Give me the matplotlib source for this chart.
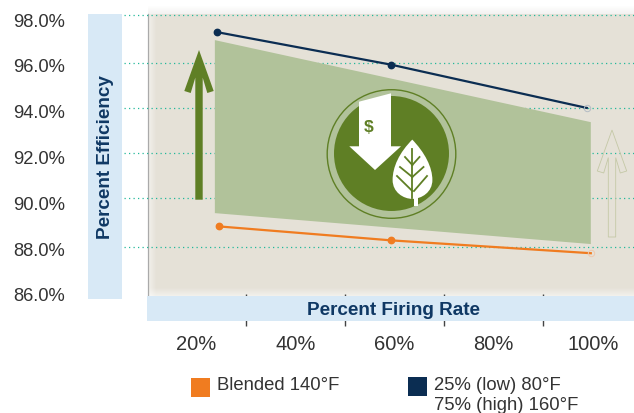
from matplotlib import pyplot as plt
from matplotlib.patches import Circle, PathPatch, Polygon, Rectangle
from matplotlib.path import Path
from matplotlib.transforms import Affine2D

plt.rcParams['font.family'] = ['Liberation Sans', 'DejaVu Sans']

W, H = 634, 414

# values
x_labels = [20, 40, 60, 80, 100]
x_marks = [30, 50, 70, 90]
y_labels = [86, 88, 90, 92, 94, 96, 98]
grid_y = [98.19, 96.06, 94.12, 92.15, 90.17, 88.07]

low_high_x = [24.2, 59.3, 98.8]
low_high_y = [97.43, 96.01, 94.12]
blended_x = [24.6, 59.4, 99.6]
blended_y = [88.95, 88.34, 87.78]

band_x = [23.8, 99.6, 99.6, 23.8]
band_y = [97.08, 93.5, 88.18, 89.53]

legend_labels = ['Blended 140°F', '25% (low) 80°F\n75% (high) 160°F']

PANEL = '#e5e1d7'
BLUE = '#d8e9f6'
NAVY = '#0b2d52'
TITLE = '#0f3864'
ORANGE = '#f07c20'
OLIVE = '#5f7f25'
SAGE = '#b1c29a'
TEAL = '#22b89a'
GHOST = '#c4c8a6'
TEXT = '#333333'


def big_arrow(cx, top, bottom):
    return [(cx, top), (cx + 14.7, top + 41), (cx + 8.3, top + 43), (cx + 3.7, top + 27.6),
            (cx + 3.7, bottom), (cx - 3.7, bottom), (cx - 3.7, top + 27.6),
            (cx - 8.3, top + 43), (cx - 14.7, top + 41)]


fig = plt.figure(figsize=(W / 100, H / 100), dpi=100)
# pixel coordinates, from the top left, for the decoration
pix = Affine2D().scale(1 / W, -1 / H).translate(0, 1) + fig.transFigure

ax = fig.add_axes([148 / W, 1 - 295 / H, (W - 148) / W, 280 / H])
ax.patch.set_visible(False)
ax.set_axisbelow(True)
for side in ax.spines:
    ax.spines[side].set_visible(False)
ax.set_xlim(10.32, 108.31)
ax.set_ylim(86, 98.22)


def deco(patch):
    patch.set_transform(pix)
    patch.set_clip_on(False)
    ax.add_patch(patch)
    return patch


# background panel with soft edges
deco(Rectangle((148, 15), W - 148, 282, fc=PANEL, ec='none', zorder=0))
for i in range(8):
    deco(Rectangle((148 + i, 15), 1, 282, fc='white', ec='none', alpha=0.5 * (1 - i / 8), zorder=0.1))
    deco(Rectangle((148, 296 - i), W - 148, 1, fc='white', ec='none', alpha=0.5 * (1 - i / 8), zorder=0.1))
    deco(Rectangle((148, 14 - i), W - 148, 1, fc='#8a8578', ec='none', alpha=0.1 * (1 - i / 8), zorder=0.1))
ax.plot([147.5, 147.5], [15, 297], color='#aaaaaa', lw=0.9, transform=pix, clip_on=False, zorder=0.2)

ax.hlines(grid_y, 5.48, 108.31, color=TEAL, lw=0.9, linestyle=(0, (1, 2.6)), clip_on=False, zorder=1)

deco(Polygon(big_arrow(612, 131, 238), closed=True, fc='none', ec=GHOST, lw=0.6, zorder=1.5))
deco(Polygon(big_arrow(199, 51, 200.7), closed=True, fc=OLIVE, ec='none', zorder=1.5))

ax.fill(band_x, band_y, color=SAGE, lw=0, zorder=2)

ax.plot(low_high_x, low_high_y, color=NAVY, lw=1.6, marker='o', ms=4.6, markevery=[0, 1], zorder=4)
ax.plot(blended_x, blended_y, color=ORANGE, lw=1.6, marker='o', ms=4.6, markevery=[0, 1], zorder=4)
ax.plot(low_high_x[-1], low_high_y[-1], 'o', ms=4.6, mfc='none', mec='#b4bcc4', mew=0.7, zorder=4)
ax.plot(blended_x[-1], blended_y[-1], 'o', ms=4.6, mfc='none', mec='#eec9ae', mew=0.7, zorder=4)

# round icon in the middle of the band
deco(Circle((391.5, 155), 64.3, fc='none', ec=OLIVE, lw=1.0, zorder=5))
deco(Circle((391.5, 154.5), 57.5, fc=OLIVE, ec='none', zorder=5))
deco(Polygon([(359, 102.7), (391, 94.3), (391, 147.3), (401, 147.3), (375, 171),
              (349.3, 147.3), (359, 147.3)], closed=True, fc='white', ec='none', zorder=6))
ax.text(369, 127.5, '$', transform=pix, color=OLIVE, fontsize=12.5, fontweight='bold',
        ha='center', va='center', zorder=7)

leaf = Path([(412.3, 139), (398, 153), (391.5, 168), (391.5, 181), (391.5, 194), (403, 201), (412.3, 201),
             (422, 201), (433.5, 194), (433.5, 181), (433.5, 168), (426, 153), (412.3, 139), (412.3, 139)],
            [Path.MOVETO] + [Path.CURVE4] * 12 + [Path.CLOSEPOLY])
deco(PathPatch(leaf, fc='white', ec=OLIVE, lw=1.6, zorder=7))
deco(Rectangle((413.5, 198), 4.5, 9, fc='white', ec='none', zorder=8))
veins = [[(412.3, 150), (412.3, 199)],
         [(412.3, 166), (405, 158)], [(412.3, 166), (419.5, 158)],
         [(412.3, 178), (400, 168)], [(412.3, 178), (423.5, 168)],
         [(412.3, 192), (397, 177)], [(414, 192), (427, 177)]]
for vein in veins:
    ax.plot([vein[0][0], vein[1][0]], [vein[0][1], vein[1][1]], color=OLIVE, lw=1.3,
            transform=pix, clip_on=False, zorder=8)

# axis title bands
deco(Rectangle((88, 15), 34, 285, fc=BLUE, ec='none', zorder=3))
deco(Rectangle((147, 297.3), W - 147, 24.4, fc=BLUE, ec='none', zorder=3))
ax.text(105, 157, 'Percent Efficiency', transform=pix, color=TITLE, fontsize=13.6, fontweight='bold',
        rotation=90, ha='center', va='center', zorder=4)
ax.text(393.5, 310.5, 'Percent Firing Rate', transform=pix, color=TITLE, fontsize=13.6, fontweight='bold',
        ha='center', va='center', zorder=4)

# labels sit between the tick marks
ax.set_xticks(x_marks)
ax.set_xticklabels([])
ax.tick_params(axis='x', which='major', length=23, width=1, color='#444444')
ax.set_xticks(x_labels, [f'{v}%' for v in x_labels], minor=True)
ax.tick_params(axis='x', which='minor', length=0, pad=28.5, labelsize=14.5, labelcolor=TEXT)
ax.set_yticks(y_labels, [f'{v:.1f}%' for v in y_labels])
ax.tick_params(axis='y', length=0, pad=60, labelsize=13.2, labelcolor=TEXT)

# legend
deco(Rectangle((191, 379), 19, 19, fc=ORANGE, ec='none', zorder=3))
deco(Rectangle((408, 378), 19, 19, fc=NAVY, ec='none', zorder=3))
ax.text(217, 385.5, legend_labels[0], transform=pix, color=TEXT, fontsize=13.3, ha='left', va='center')
ax.text(434, 395.5, legend_labels[1], transform=pix, color=TEXT, fontsize=13.3, ha='left', va='center',
        linespacing=1.2)

fig.savefig('out.png', dpi=100)
